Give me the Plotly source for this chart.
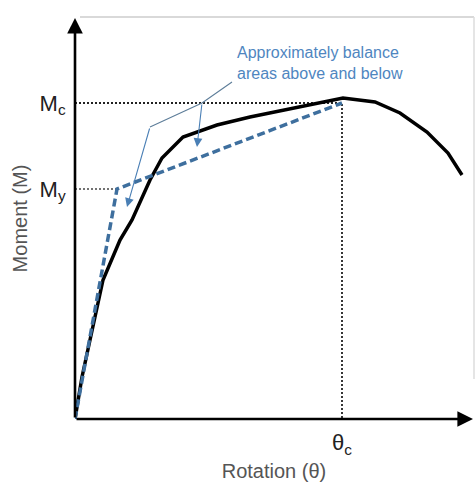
import plotly.graph_objects as go

# Moment-rotation curve (arbitrary units)
rotation = [0, 7, 15, 28, 45, 57, 75, 87, 108, 142, 175, 268, 300, 325, 352, 373, 387]
moment = [0, 42, 79, 139, 179, 199, 239, 261, 282, 294, 302, 321, 317, 306, 287, 266, 244]

# Idealised bilinear approximation
bilin_rot = [0, 42, 267]
bilin_mom = [0, 230, 316]

theta_c = 267
M_c = 316
M_y = 230
theta_y = 42

y_tick_vals = [M_y, M_c]
y_tick_text = ["M<sub>y</sub>", "M<sub>c</sub>"]
x_tick_vals = [theta_c]
x_tick_text = ["θ<sub>c</sub>"]

note_text = "Approximately balance<br>areas above and below"
x_title = "Rotation (θ)"
y_title = "Moment (M)"

XMAX = 398
YMAX = 401

fig = go.Figure()

# reference dotted lines
fig.add_trace(go.Scatter(x=[0, theta_c, theta_c], y=[M_c, M_c, 0], mode="lines",
                         line=dict(color="#222222", width=1.8, dash="2px,2px"),
                         hoverinfo="skip", showlegend=False))
fig.add_trace(go.Scatter(x=[0, theta_y], y=[M_y, M_y], mode="lines",
                         line=dict(color="#444444", width=1.4, dash="2px,2px"),
                         hoverinfo="skip", showlegend=False))

# leader lines
fig.add_trace(go.Scatter(x=[157, 127, 75], y=[337, 316, 292], mode="lines",
                         line=dict(color="#5d7d99", width=1.1),
                         hoverinfo="skip", showlegend=False))

# actual curve
fig.add_trace(go.Scatter(x=rotation, y=moment, mode="lines",
                         line=dict(color="#000000", width=3.5),
                         showlegend=False))

# bilinear
fig.add_trace(go.Scatter(x=bilin_rot, y=bilin_mom, mode="lines",
                         line=dict(color="#3e6f9e", width=3.5, dash="8px,4px"),
                         showlegend=False))

annotations = [
    # axes arrows
    dict(x=XMAX, y=0, ax=0, ay=0, xref="x", yref="y", axref="x", ayref="y",
         showarrow=True, arrowhead=2, arrowsize=1.2, arrowwidth=2.6,
         arrowcolor="#000000", text=""),
    dict(x=0, y=YMAX, ax=0, ay=0, xref="x", yref="y", axref="x", ayref="y",
         showarrow=True, arrowhead=2, arrowsize=1.2, arrowwidth=2.6,
         arrowcolor="#000000", text=""),
    # leader arrows
    dict(x=52, y=212, ax=75, ay=292, xref="x", yref="y", axref="x", ayref="y",
         showarrow=True, arrowhead=2, arrowsize=1.6, arrowwidth=1.1,
         arrowcolor="#4a7fb5", text=""),
    dict(x=122, y=272, ax=127, ay=316, xref="x", yref="y", axref="x", ayref="y",
         showarrow=True, arrowhead=2, arrowsize=1.6, arrowwidth=1.1,
         arrowcolor="#4a7fb5", text=""),
    # note
    dict(x=160, y=356, xref="x", yref="y", text=note_text, showarrow=False,
         xanchor="left", yanchor="middle", align="left",
         font=dict(family="Liberation Sans, Arial", size=16, color="#4f86bf")),
]

fig.update_layout(
    width=475, height=482,
    margin=dict(l=75, r=2, t=18, b=63, autoexpand=False),
    plot_bgcolor="white", paper_bgcolor="white",
    annotations=annotations,
    shapes=[
        dict(type="line", xref="paper", yref="paper", x0=5/398, x1=399/398, y0=1.0025, y1=1.0025,
             line=dict(color="#cccccc", width=1.5)),
        dict(type="line", xref="paper", yref="paper", x0=399/398, x1=399/398, y0=1.0025, y1=0.1,
             line=dict(color="#dddddd", width=1.5)),
    ],
    font=dict(family="Liberation Sans, Arial", color="#222222"),
)

fig.update_xaxes(range=[0, XMAX], showgrid=False, zeroline=False, showline=False,
                 automargin=False,
                 tickvals=x_tick_vals, ticktext=x_tick_text, ticks="outside",
                 ticklen=4, tickcolor="rgba(0,0,0,0)",
                 tickfont=dict(size=22, color="#222222"),
                 title=dict(text=x_title, font=dict(size=20, color="#555555"), standoff=14))
fig.update_yaxes(range=[0, YMAX], showgrid=False, zeroline=False, showline=False,
                 automargin=False,
                 tickvals=y_tick_vals, ticktext=y_tick_text, ticks="outside",
                 ticklen=4, tickcolor="rgba(0,0,0,0)",
                 tickfont=dict(size=22, color="#222222"),
                 title=dict(text=y_title, font=dict(size=20, color="#555555"), standoff=6))

fig.write_html("out.html", config={"displayModeBar": False},
               post_script="document.body.style.margin='0';document.body.style.overflow='hidden';")
